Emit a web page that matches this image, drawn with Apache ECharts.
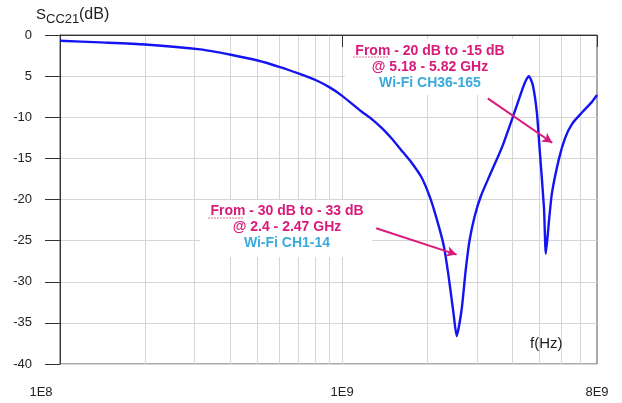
<!DOCTYPE html>
<html>
<head>
<meta charset="utf-8">
<script src="https://cdn.jsdelivr.net/npm/echarts@6/dist/echarts.min.js"></script>
<style>html,body{margin:0;padding:0;background:#fff}#c{width:622px;height:403px}</style>
</head>
<body>
<div id="c"></div>
<script>
// Frequencies in Hz
var freq = [1.0e8, 1.39e8, 2.0e8, 3.15e8, 4.03e8, 5.02e8, 6.02e8, 7.03e8, 8.08e8, 9.06e8,
  1.0e9, 1.17e9, 1.27e9, 1.38e9, 1.49e9, 1.62e9, 1.76e9, 1.91e9, 2.04e9, 2.16e9, 2.29e9, 2.38e9, 2.48e9,
  2.545e9, 2.65e9, 2.74e9, 2.83e9, 2.95e9, 3.10e9, 3.34e9, 3.68e9, 4.06e9, 4.34e9, 4.48e9, 4.59e9,
  4.74e9, 4.90e9, 5.02e9, 5.19e9, 5.27e9, 5.41e9, 5.54e9, 5.87e9, 6.17e9, 6.53e9, 7.09e9, 7.69e9, 8.0e9];
// Scc21 in dB
var scc21 = [-0.7, -0.9, -1.15, -1.75, -2.4, -3.1, -3.9, -4.7, -5.5, -6.4,
  -7.4, -9.3, -10.2, -11.3, -12.5, -14.0, -15.5, -17.3, -19.6, -22.3, -25.6, -29.2, -33.8,
  -36.6, -33.4, -28.6, -24.9, -22.0, -19.6, -17.0, -13.7, -9.6, -6.7, -5.5, -5.0,
  -6.1, -9.5, -14.3, -21.0, -26.6, -22.5, -19.2, -15.0, -12.5, -10.8, -9.4, -8.1, -7.3];
var yTickLabels = ['0', '5', '-10', '-15', '-20', '-25', '-30', '-35', '-40'];
var yTickValues = [0, -5, -10, -15, -20, -25, -30, -35, -40];
var xTickLabels = ['1E8', '1E9', '8E9'];
var gridFreqs = [2e8, 3e8, 4e8, 5e8, 6e8, 7e8, 8e8, 9e8, 1e9, 2e9, 3e9, 4e9, 5e9, 6e9, 7e9];
// annotation arrows [start, end] as [freq, dB]
var arrows = [
  [[1.32e9, -23.5], [2.545e9, -26.7]],
  [[3.28e9, -7.7], [5.55e9, -13.1]]
];
var annot1 = ['From - 20 dB to -15 dB', '@ 5.18 - 5.82 GHz', 'Wi-Fi CH36-165'];
var annot2 = ['From - 30 dB to - 33 dB', '@ 2.4 - 2.47 GHz', 'Wi-Fi CH1-14'];

var MAG = '#d81b7a', LBLUE = '#3aa9dc', CURVE = '#1414f2';
var FONT = 'Liberation Sans, Arial, sans-serif';

function xLabel(v) {
  var e = Math.floor(Math.log10(v) + 1e-9);
  var m = Math.round(v / Math.pow(10, e));
  var s = m + 'E' + e;
  if (xTickLabels.indexOf(s) < 0) return '';
  if (s === xTickLabels[0]) return '{a|' + s + '}';
  return s;
}

function annotText(lines, cx, cy) {
  var out = [];
  for (var i = 0; i < lines.length; i++) {
    out.push({
      type: 'text', z: 6, x: cx, y: cy + i * 16,
      style: {
        text: lines[i], fill: i === 2 ? LBLUE : MAG,
        font: 'bold 14px ' + FONT, textAlign: 'center', textVerticalAlign: 'middle'
      }
    });
  }
  return out;
}

var chart = echarts.init(document.getElementById('c'), null, {renderer: 'canvas'});
var graphics = [
  {type: 'rect', z: 1, shape: {x: 345, y: 39, width: 185, height: 56}, style: {fill: '#fff'}},
  {type: 'rect', z: 1, shape: {x: 200, y: 200, width: 172, height: 57}, style: {fill: '#fff'}},
  {type: 'text', z: 6, x: 36, y: 7, style: {text: 'S', fill: '#222', font: '15px ' + FONT}},
  {type: 'text', z: 6, x: 46, y: 13, style: {text: 'CC21', fill: '#222', font: '13px ' + FONT}},
  {type: 'text', z: 6, x: 79, y: 7, style: {text: '(dB)', fill: '#222', font: '16px ' + FONT}},
  {type: 'text', z: 6, x: 530, y: 336, style: {text: 'f(Hz)', fill: '#222', font: '15px ' + FONT}},
  {type: 'line', z: 6, shape: {x1: 353, y1: 57, x2: 389, y2: 57}, style: {stroke: '#e07090', lineWidth: 1, lineDash: [2, 1]}},
  {type: 'line', z: 6, shape: {x1: 208, y1: 218, x2: 244, y2: 218}, style: {stroke: '#e07090', lineWidth: 1, lineDash: [2, 1]}}
].concat(annotText(annot1, 430, 51)).concat(annotText(annot2, 287, 211));

var option = {
  animation: false,
  backgroundColor: '#fff',
  grid: {left: 60, right: 25, top: 35, bottom: 39, show: true, borderColor: '#555', borderWidth: 1, backgroundColor: 'transparent'},
  xAxis: {
    type: 'log', logBase: 10, min: 1e8, max: 8e9,
    axisLine: {show: true, lineStyle: {color: '#333', width: 1}},
    axisTick: {show: true, length: 12, lineStyle: {color: '#333'}},
    splitLine: {show: false},
    minorTick: {show: false},
    axisLabel: {
      formatter: xLabel, color: '#222', fontSize: 13, fontFamily: FONT, margin: 22,
      showMinLabel: true, showMaxLabel: true,
      rich: {a: {fontSize: 13, fontFamily: FONT, color: '#222', padding: [0, 38, 0, 0]}}
    }
  },
  yAxis: {
    type: 'value', min: -40, max: 0, interval: 5,
    axisLine: {show: true, lineStyle: {color: '#333', width: 1}},
    axisTick: {show: true, length: 15, lineStyle: {color: '#333'}},
    splitLine: {show: true, lineStyle: {color: '#d6d6d6', width: 1}},
    axisLabel: {
      color: '#222', fontSize: 13, fontFamily: FONT, margin: 28,
      formatter: function (v) {
        var i = yTickValues.indexOf(v);
        return i >= 0 ? yTickLabels[i] : '';
      }
    }
  },
  graphic: graphics,
  series: [
    {
      type: 'line', data: [], z: 0, silent: true,
      markLine: {
        silent: true, z: 0, symbol: 'none', animation: false,
        label: {show: false},
        lineStyle: {color: '#d6d6d6', type: 'solid', width: 1},
        emphasis: {disabled: true},
        data: gridFreqs.map(function (f) { return {xAxis: f}; })
      }
    },
    {
      type: 'line', z: 2, showSymbol: false, smooth: 0.2,
      lineStyle: {color: CURVE, width: 2.4},
      itemStyle: {color: CURVE},
      data: freq.map(function (f, i) { return [f, scc21[i]]; }),
      markLine: {
        silent: true, z: 5, symbol: ['none', 'arrow'], symbolSize: [8, 10],
        label: {show: false},
        lineStyle: {color: MAG, type: 'solid', width: 2},
        emphasis: {disabled: true},
        data: arrows.map(function (a) { return [{coord: a[0]}, {coord: a[1]}]; })
      }
    }
  ]
};
chart.setOption(option);
</script>
</body>
</html>
